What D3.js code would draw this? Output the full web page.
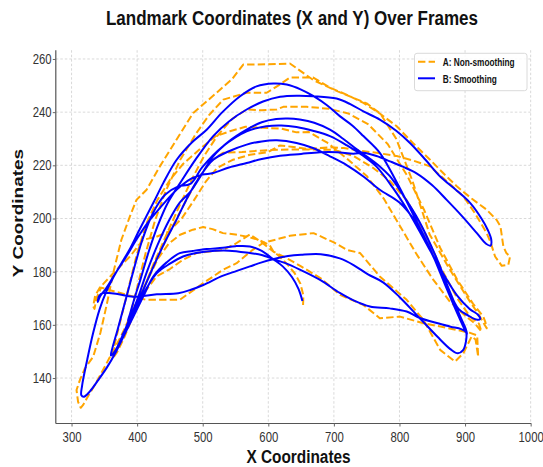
<!DOCTYPE html>
<html><head><meta charset="utf-8">
<script src="https://cdn.jsdelivr.net/npm/d3@7"></script>
<style>body{margin:0;background:#fff}</style>
</head><body>
<svg id="chart" width="543" height="467"></svg>
<script>
// ---- data ----
const titleText = "Landmark Coordinates (X and Y) Over Frames";
const xLabelText = "X Coordinates";
const yLabelText = "Y Coordinates";
const seriesNames = ["A: Non-smoothing", "B: Smoothing"];
const xTicks = [300, 400, 500, 600, 700, 800, 900, 1000];
const yTicks = [140, 160, 180, 200, 220, 240, 260];

// A: Non-smoothing trajectory [x, y]
const seriesA = [
[653,167.5],[653.5,171],[649,175.5],[640,179.5],[628,183],[616,186],[608,187.5],[602,190],[585,192],[570,193],[550,194],[531,194.5],[515,196],[500.8,196.8],[485,195.8],[465.5,193.9],[448,190.5],[432,185],[418,178],[404,171],[390,163.5],[376,156],[362,149.5],[349,143.5],[337,138],[326,133.5],[318,130],[314,128.8],[310,131],[307.6,135.5],[312.7,139.2],[320.3,143.6],[333,148],[344,157],[354,168],[364,180],[376,192],[389,200.8],[399,207],[414.4,210.8],[434.7,219.6],[460.2,229.7],[485.5,239.7],[521.2,247.3],[545,252.5],[561.8,257.9],[600,258],[633,258.3],[669,252],[705,247.9],[750,243.3],[771,239.4],[795,230],[820,214],[846,194],[877,180.7],[902.6,170.6],[923,163],[933,158.7],[931,161],
[928,163],[912,168],[888,177],[862,189],[838,203],[812,216],[782,228],[752,235.5],[722,239.5],[692,241.3],[658.5,242],[622.8,242],[612.7,241],[590,240.7],[567,241],[545,237.5],[522,231],[502,223.5],[483,214.5],[464,204.5],[445,194],[426,183.5],[409,173],[394,163.5],[380,155],[369,149.5],[363,147.5],
[366,153],[375,162],[386,173],[399,186],[414,198],[431,207],[450,214.5],[470,220.5],[500,227],[520,231],[541.5,232.8],[565,234.5],[592.3,234.1],[620,233.8],[643,232.4],[662,232.5],[690,228.5],[720,222.5],[750,216],[776,207.5],[800,197.5],[825,187],[850,177.5],[876,169],[900,163.5],[915,160.5],[925,157.5],[921,160.5],
[908,163],[888,170],[863,181.5],[838,195],[812,206.5],[786,214],[760,219],[730,223.5],[700,225.9],[678.8,225.9],[650,226],[617.8,225.9],[585,225.5],[560,225],[531,224.7],[512,221.5],[493,215],[474,206.5],[455,197.5],[436,188],[418,178.5],[404,170],[394,164],[387,160.5],
[392,166],[401,175],[413,187],[427,199],[443,210],[465.5,222],[490,232],[510,239],[531.3,244.7],[567,247.3],[597.5,247.3],[615,250],[633,253],[668.6,253],[694,249.2],[720,246.5],[745,243.5],[770,239.5],[795.8,234.7],[820,228.5],[846.6,222.1],[867,217],[887.4,212.1],[910,207.5],[933,203.3],[948,199.5],[954,197],[958.4,189.5],[963,187],[968.6,185.7],[966,182.6],[956,182.2],[945.8,185.7],[939,191],[933,194.5],[915,202],[897.4,208.3],[870,214.5],[846.6,219.6],[821,221.8],[795.8,223.5],[765,224.7],[740,225.5],[715,226.5],[694,226.8],[660,226.2],[635,227],[617.8,227.5],[600,225],[572,224],[545,222],[522,219],[505,214],[487,207],[468,200],[448,195],[428,193],[409,192],[389,185.7],[363.5,179.4],[343,174],[336,171],[333,167],[335,166],[338,170],[345,174],[384,171.3],[414,169.4],[440,169.4],[465,169.4],[500.8,175.7],[531,180.7],[551.7,183.2],[575,188],[592,190.8],[633,193.5],[669,194.5],[700,191],[720,188.2],[740,187],[770,178.2],[811,169.4],[836.4,161.9],[862,150.6],[884.7,146.2],[897.4,149.3],[910,155.6],[916,154.5],[920,148],[918.5,156],[907.6,157],[870,159],[836.4,160.6],[800.8,163.1],[770,162.5],[745,167.5],[709.4,171.3],[680,177.5],[650,182],[625,185.5],[608,187.5],[590,191],[572,194],[550,190.5],[531,188.2],[490.7,187],[470,184.5],[450,181],[429.7,178.2],[412,172.5],[397,165.5],[383,158.5]
];

// B: Smoothing trajectory [x, y]
const seriesB = [
[652,169],[646,173.5],[636,178],[622,182],[607,184.8],[590,187.8],[572,189.5],[550,189.6],[531,189],[506,188.5],[485,187.8],[465,187],[445,183.5],[424.6,178.2],[410,171],[396,164],[382,157],[368,150],[354,144],[340,139],[328,135],[319,133],[315,133.5],
[316,137],[324,147],[333,157],[343,166],[353,172.5],[363,177.5],[377,183.5],[390,189],[402,195],[414,200.8],[427,207],[440,213.4],[460,222],[483,228.5],[506,233.4],[530,240],[557,246],[582,249.7],[608,250.8],[628,250.4],[650,248.5],[669,246],[690,242.5],[709,238.5],[728,235],[745,231],[770,224.7],[795,214],[820,202],[846,189],[868,176],[887,165],[898,159],[903,156.5],[901,158.5],
[893,163],[876,173],[855,186],[830,199],[805,209],[785,216],[770,219.6],[752,223],[735,226],[714,230],[694,233.4],[670,236],[648,237.2],[630,237.6],[612,237.4],[590,236.2],[567,233.4],[540,229],[516,223.4],[497,216],[481,210],[465,206],[448,199],[431,190],[415,180],[401,170],[388,162],[376,155],[366,150],[360,148.5],
[362,151],[370,158],[381,168],[394,180],[408,192],[424,202],[443,209],[462,212],[481,213],[500,219.5],[530,227],[567,232.8],[597,234.7],[620,235],[643,234.4],[668,233],[694,231],[720,227.5],[745,223.5],[765,219.5],[790,211.5],[815,202],[840,191],[865,180],[888,171],[907,166],[920,163.7],[923,162.2],[917,162],
[905,163.5],[890,166],[870,176],[848,187.5],[825,198.5],[800,206],[770,210.8],[745,215.8],[720,220],[694,223.4],[668,226.5],[643,228.4],[613,229.4],[590,229],[567,227.8],[540,225.3],[516,222.1],[495,215.5],[478,208.5],[460,199.5],[442,191],[425,182],[410,173.5],[398,167],[390,163],[386,161.5],
[389,164],[396,170],[405,177],[417,187],[431,197],[447,206],[465.5,213.3],[490,222.5],[516,231],[540,236.5],[567,241],[592,244],[618,245.8],[645,246.2],[669,246],[704,245.1],[725,243],[745,240.3],[770,237.2],[795,233],[816,228.4],[840,222],[862,215.8],[885,211],[908,205.8],[925,200],[935,195.5],[940,192],[939,189.8],[932,190.5],[918,194.5],[895,201],[872,207],[850,212.5],[826,217],[805,219.5],[785.6,221.5],[765,223.5],[744.5,224.7],[729.7,224.4],[705,224.9],[679,224.9],[650,224.3],[618,223.6],[590,222.4],[567,220.9],[540,219.2],[516,217.1],[500,216.5],[484,215.2],[468,212.5],[452,208.8],[435,204],[418,199],[400,192.5],[383,185.5],[366,179],[352,173.5],[343,170.5],[340,168.6],[342,170.8],[348,172],[370,171.6],[394,170.6],[430,171.5],[462.6,171.9],[482,173.2],[500.8,175],[530,178.4],[552,180.3],[572,182],[590,183.5],[607,184.7],[630,185.9],[650,186.4],[680,186.6],[709,185],[730,182.5],[752,179],[775,176],[800,170.5],[831,162.5],[858,155.5],[878,150.8],[889,149.3],[897,150.5],[901.5,154],[901.5,157.2],[894,158.4],[878,159.3],[860,160.5],[831,162.6],[811,165],[785,166.2],[755,166.9],[730,169.2],[709,172],[679,176.9],[648,180.8],[625,183.3],[607,184.8],[590,186.3],[572,187],[540,187.9],[506,187.6],[488,186.9],[470,185.7],[450,183],[429.7,179.4],[415,174],[401,167.5],[388,161],[377,156]
];

// ---- drawing ----
const svg = d3.select("#chart");
const FONT = "'Liberation Sans', Arial, Helvetica, sans-serif";
const SQ = 0.81; // horizontal squeeze of all lettering in the reference
const plot = {left: 55.8, right: 531.3, top: 50.2, bottom: 423.5};
const x = d3.scaleLinear().domain([276, 1001]).range([plot.left, plot.right]);
const y = d3.scaleLinear().domain([122.9, 263.3]).range([plot.bottom, plot.top]);

svg.append("rect").attr("width",543).attr("height",467).attr("fill","#fff");

// grid
const grid = svg.append("g");
grid.selectAll("line.v").data(xTicks).join("line")
  .attr("x1", d=>x(d)).attr("x2", d=>x(d)).attr("y1", plot.top).attr("y2", plot.bottom)
  .attr("stroke","#cfcfcf").attr("stroke-width",0.8).attr("stroke-dasharray","2.5,2");
grid.selectAll("line.h").data(yTicks).join("line")
  .attr("y1", d=>y(d)).attr("y2", d=>y(d)).attr("x1", plot.left).attr("x2", plot.right)
  .attr("stroke","#cfcfcf").attr("stroke-width",0.8).attr("stroke-dasharray","2.5,2");

// series
const lineA = d3.line().x(d=>x(d[0])).y(d=>y(d[1])).curve(d3.curveLinear);
const lineB = d3.line().x(d=>x(d[0])).y(d=>y(d[1])).curve(d3.curveCatmullRom.alpha(0.5));
svg.append("path").datum(seriesA).attr("d", lineA).attr("fill","none")
  .attr("stroke","#FFA500").attr("stroke-width",2).attr("stroke-dasharray","7.4,3.2")
  .attr("stroke-linejoin","round");
svg.append("path").datum(seriesB).attr("d", lineB).attr("fill","none")
  .attr("stroke","#0000FF").attr("stroke-width",2).attr("stroke-linejoin","round");

// axes
const xAxis = svg.append("g").attr("transform",`translate(0,${plot.bottom})`)
  .call(d3.axisBottom(x).tickValues(xTicks).tickSize(3).tickFormat(d3.format("d")));
xAxis.select(".domain").attr("stroke","#555").attr("stroke-width",1.2).attr("d",`M${plot.left},0H${plot.right}`);
xAxis.selectAll(".tick line").attr("stroke","#666");
xAxis.selectAll(".tick text").attr("y",8.6).attr("transform",`scale(${SQ},1)`)
  .attr("fill","#333").style("font-family",FONT).style("font-size","14px");

const yAxis = svg.append("g").attr("transform",`translate(${plot.left},0)`)
  .call(d3.axisLeft(y).tickValues(yTicks).tickSize(3).tickFormat(d3.format("d")));
yAxis.select(".domain").attr("stroke","#555").attr("stroke-width",1.2).attr("d",`M0,${plot.bottom}V${plot.top}`);
yAxis.selectAll(".tick line").attr("stroke","#666");
yAxis.selectAll(".tick text").attr("x",-5.1).attr("transform",`scale(${SQ},1)`)
  .attr("fill","#333").style("font-family",FONT).style("font-size","14px");

// title & labels
svg.append("text").attr("transform","translate(292,25) scale(0.83,1)").attr("text-anchor","middle")
  .style("font-family",FONT).style("font-weight","bold").style("font-size","20.5px")
  .attr("fill","#111").text(titleText);
svg.append("text").attr("transform",`translate(298.5,463) scale(${SQ},1)`).attr("text-anchor","middle")
  .style("font-family",FONT).style("font-weight","bold").style("font-size","19px")
  .attr("fill","#111").text(xLabelText);
svg.append("text").attr("transform",`translate(23,213) scale(${SQ},1) rotate(-90)`).attr("text-anchor","middle")
  .style("font-family",FONT).style("font-weight","bold").style("font-size","19px")
  .attr("fill","#111").text(yLabelText);

// legend
const lg = svg.append("g");
lg.append("rect").attr("x",414.5).attr("y",53.3).attr("width",112.5).attr("height",37.4)
  .attr("rx",2.5).attr("fill","#fff").attr("fill-opacity",0.85).attr("stroke","#d0d0d0").attr("stroke-width",0.8);
const legendStyles = [
  {color:"#FFA500", dash:"7.4,3.2", yl:61.7, yt:65.6},
  {color:"#0000FF", dash:null, yl:78.3, yt:82.6}
];
seriesNames.forEach((name,i)=>{
  const s = legendStyles[i];
  lg.append("line").attr("x1",418).attr("x2",435).attr("y1",s.yl).attr("y2",s.yl)
    .attr("stroke",s.color).attr("stroke-width",2).attr("stroke-dasharray",s.dash);
  lg.append("text").attr("transform",`translate(442.7,${s.yt}) scale(${SQ},1)`)
    .style("font-family",FONT).style("font-weight","bold").style("font-size","10.2px")
    .attr("fill","#111").text(name);
});
</script>
</body></html>
